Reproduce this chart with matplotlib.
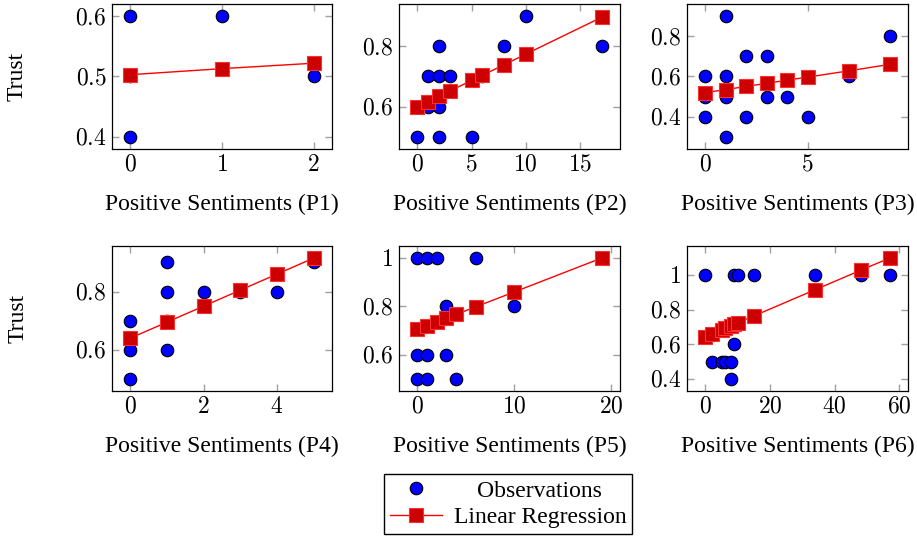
import matplotlib.pyplot as plt
from matplotlib.lines import Line2D
from matplotlib.transforms import Affine2D

plt.rcParams["font.family"] = ["Liberation Serif", "DejaVu Serif"]
plt.rcParams["mathtext.fontset"] = "cm"

# ---------- data ---------- #
# observations (x = positive sentiments, y = trust)
p1_x = [0, 0, 0, 1, 2]
p1_y = [0.6, 0.5, 0.4, 0.6, 0.5]
p2_x = [0, 2, 5, 1, 2, 1, 2, 3, 6, 2, 8, 10, 17]
p2_y = [0.5, 0.5, 0.5, 0.6, 0.6, 0.7, 0.7, 0.7, 0.7, 0.8, 0.8, 0.9, 0.8]
p3_x = [0, 0, 0, 1, 1, 1, 1, 2, 2, 3, 3, 4, 5, 7, 9]
p3_y = [0.6, 0.5, 0.4, 0.9, 0.6, 0.5, 0.3, 0.7, 0.4, 0.7, 0.5, 0.5, 0.4, 0.6, 0.8]
p4_x = [0, 0, 0, 1, 1, 1, 1, 2, 3, 4, 5]
p4_y = [0.7, 0.6, 0.5, 0.9, 0.8, 0.7, 0.6, 0.8, 0.8, 0.8, 0.9]
p5_x = [0, 1, 2, 6, 3, 10, 0, 1, 3, 0, 1, 4]
p5_y = [1.0, 1.0, 1.0, 1.0, 0.8, 0.8, 0.6, 0.6, 0.6, 0.5, 0.5, 0.5]
p6_x = [0, 9, 10, 15, 34, 48, 57, 9, 2, 5, 6, 8, 8]
p6_y = [1.0, 1.0, 1.0, 1.0, 1.0, 1.0, 1.0, 0.6, 0.5, 0.5, 0.5, 0.5, 0.4]

# fitted regression points
r1_x = [0, 1, 2]
r1_y = [0.503, 0.513, 0.522]
r2_x = [0, 1, 2, 3, 5, 6, 8, 10, 17]
r2_y = [0.600, 0.617, 0.635, 0.652, 0.687, 0.704, 0.739, 0.774, 0.896]
r3_x = [0, 1, 2, 3, 4, 5, 7, 9]
r3_y = [0.520, 0.535, 0.551, 0.566, 0.582, 0.597, 0.628, 0.660]
r4_x = [0, 1, 2, 3, 4, 5]
r4_y = [0.640, 0.695, 0.750, 0.805, 0.860, 0.915]
r5_x = [0, 1, 2, 3, 4, 6, 10, 19]
r5_y = [0.705, 0.720, 0.736, 0.752, 0.767, 0.798, 0.860, 1.000]
r6_x = [0, 2, 5, 6, 8, 9, 10, 15, 34, 48, 57]
r6_y = [0.645, 0.661, 0.685, 0.693, 0.709, 0.717, 0.725, 0.765, 0.917, 1.029, 1.100]

xticks = [[0, 1, 2], [0, 5, 10, 15], [0, 5], [0, 2, 4], [0, 10, 20], [0, 20, 40, 60]]
yticks = [[0.4, 0.5, 0.6], [0.6, 0.8], [0.4, 0.6, 0.8], [0.6, 0.8],
          [0.6, 0.8, 1.0], [0.4, 0.6, 0.8, 1.0]]
names = ["P1", "P2", "P3", "P4", "P5", "P6"]

obs = [(p1_x, p1_y), (p2_x, p2_y), (p3_x, p3_y), (p4_x, p4_y), (p5_x, p5_y), (p6_x, p6_y)]
reg = [(r1_x, r1_y), (r2_x, r2_y), (r3_x, r3_y), (r4_x, r4_y), (r5_x, r5_y), (r6_x, r6_y)]

# ---------- plotting ---------- #
W, H = 917, 541
fig = plt.figure(figsize=(W / 100, H / 100), dpi=100)

lefts = [112, 399, 687]
widths = [220, 221, 221]
tops = [4, 246]
ax_h = 145

sq_face = "#cc0000"
sq_edge = "#ff3030"


def fmt(v):
    return "$" + ("%g" % v) + "$"


for i in range(6):
    r, c = divmod(i, 3)
    ax = fig.add_axes([lefts[c] / W, 1 - (tops[r] + ax_h) / H, widths[c] / W, ax_h / H])
    ox, oy = obs[i]
    rx, ry = reg[i]
    ax.plot(ox, oy, "o", ms=9, mfc="blue", mec="black", mew=0.8, zorder=3)
    ax.plot(rx, ry, "-s", color="red", lw=1, ms=9.5, mfc=sq_face, mec=sq_edge,
            mew=0.8, zorder=4)
    ax.margins(0.1)
    ax.set_xticks(xticks[i])
    ax.set_xticklabels([fmt(v) for v in xticks[i]], fontsize=17)
    ax.set_yticks(yticks[i])
    ax.set_yticklabels([fmt(v) for v in yticks[i]], fontsize=17)
    ax.tick_params(direction="in", top=True, right=True, length=5,
                   color="#a0a0a0", width=1, pad=4)
    for sp in ax.spines.values():
        sp.set_linewidth(0.9)
    ax.set_xlabel("Positive Sentiments (%s)" % names[i], fontsize=17, labelpad=13)
    if c == 0:
        ax.set_ylabel("Trust", fontsize=17, labelpad=34)

handles = [
    Line2D([], [], ls="none", marker="o", ms=9, mfc="blue", mec="black", mew=0.8),
    Line2D([], [], color="red", lw=1, marker="s", ms=9.5, mfc=sq_face, mec=sq_edge, mew=0.8),
]
leg = fig.legend(handles, ["Observations", "Linear Regression"],
                 loc="center", bbox_to_anchor=(508 / W, 1 - 504 / H),
                 fontsize=17, frameon=True, fancybox=False, edgecolor="black",
                 framealpha=1, handlelength=2.2, borderpad=0.25, labelspacing=0.2,
                 handletextpad=0.5)

# centre the shorter legend entry in its column (as pgfplots does)
fig.canvas.draw()
rend = fig.canvas.get_renderer()
t0, t1 = leg.get_texts()
dx = (t1.get_window_extent(rend).width - t0.get_window_extent(rend).width) / 2
t0.set_transform(t0.get_transform() + Affine2D().translate(dx, 0))

plt.savefig("out.png", dpi=100)
